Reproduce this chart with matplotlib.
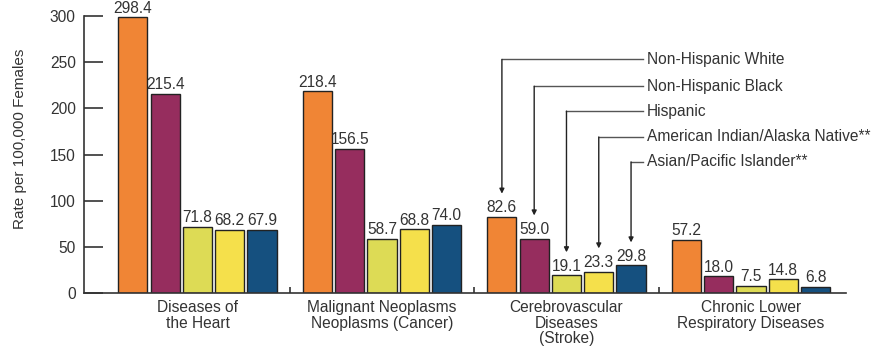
import numpy as np
import matplotlib.pyplot as plt

plt.rcParams['font.family'] = ['Liberation Sans', 'DejaVu Sans']

categories = ["Diseases of\nthe Heart", "Malignant Neoplasms\nNeoplasms (Cancer)",
              "Cerebrovascular\nDiseases\n(Stroke)", "Chronic Lower\nRespiratory Diseases"]
groups = ["Non-Hispanic White", "Non-Hispanic Black", "Hispanic",
          "American Indian/Alaska Native**", "Asian/Pacific Islander**"]
white = [298.4, 218.4, 82.6, 57.2]
black = [215.4, 156.5, 59.0, 18.0]
hispanic = [71.8, 58.7, 19.1, 7.5]
aian = [68.2, 68.8, 23.3, 14.8]
api = [67.9, 74.0, 29.8, 6.8]
series = [white, black, hispanic, aian, api]
colors = ["#F08535", "#962D5E", "#DDDB55", "#F5E04B", "#15507F"]

txt = "#333333"
fs = 11.2
fig = plt.figure(figsize=(8.88, 3.48), dpi=100)
ax = fig.add_axes([0.0946, 0.158, 0.8581, 0.796])

x = np.arange(len(categories))
width = 0.158
step = 0.175
for j, (vals, c) in enumerate(zip(series, colors)):
    pos = x + (j - 2) * step
    ax.bar(pos, vals, width, color=c, edgecolor="#222222", linewidth=1.0, zorder=2)
    for px, v in zip(pos, vals):
        ax.text(px, v + 2, f"{v:.1f}", ha="center", va="bottom", fontsize=fs, color=txt)

ax.set_xlim(-0.615, 3.515)
ax.set_ylim(0, 300)
ax.set_yticks([0, 50, 100, 150, 200, 250, 300])
ax.tick_params(axis="y", direction="in", length=14, width=1.2, color="#333333",
               labelsize=fs, labelcolor=txt, pad=6)
ax.set_xticks(x)
ax.set_xticklabels(categories, fontsize=fs, color=txt, linespacing=1.05)
ax.tick_params(axis="x", length=0, pad=5)
ax.set_xticks([0.5, 1.5, 2.5], minor=True)
ax.tick_params(axis="x", which="minor", direction="in", length=4, width=1.2, color="#333333")
for s in ["top", "right"]:
    ax.spines[s].set_visible(False)
for s in ["left", "bottom"]:
    ax.spines[s].set_color("#333333")
    ax.spines[s].set_linewidth(1.2)
ax.set_ylabel("Rate per 100,000 Females", fontsize=11, color=txt)
ax.yaxis.set_label_coords(-0.075, 0.556)

# legend with arrows pointing to the stroke bars
label_y = [253, 224, 197, 169, 142]
line_end = 2.415
for j, (name, ly) in enumerate(zip(groups, label_y)):
    bx = 2 + (j - 2) * step
    tip = series[j][2] + 25
    ax.plot([bx, line_end], [ly, ly], color="#555555", lw=1.0)
    ax.annotate("", xy=(bx, tip), xytext=(bx, ly),
                arrowprops=dict(arrowstyle="-|>", color="#222222", lw=1.0,
                                mutation_scale=7, shrinkA=0, shrinkB=0))
    ax.text(line_end + 0.02, ly, name, ha="left", va="center", fontsize=fs, color=txt)

fig.savefig("out.png", dpi=100)
